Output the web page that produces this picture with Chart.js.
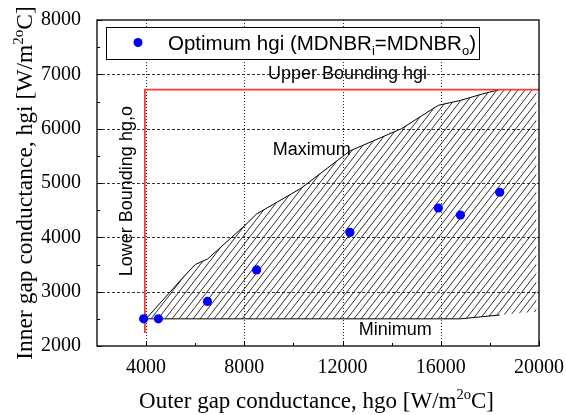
<!DOCTYPE html>
<html>
<head>
<meta charset="utf-8">
<script src="https://cdn.jsdelivr.net/npm/chart.js@4.4.1/dist/chart.umd.min.js"></script>
<style>
  html, body { margin: 0; padding: 0; background: #fff; }
  #wrap { width: 566px; height: 415px; }
</style>
</head>
<body>
<div id="wrap"><canvas id="gapChart" width="566" height="415"></canvas></div>
<script>
// optimum hgi points (MDNBRi = MDNBRo)
const hgoOpt = [3900, 4500, 6500, 8500, 12300, 15900, 16800, 18400];
const hgiOpt = [2500, 2500, 2820, 3400, 4090, 4540, 4410, 4830];

// hatched region: upper (maximum) and lower (minimum) boundary
const hgoBound = [4000, 5400, 6000, 6500, 8000, 8500, 10300, 12300, 14400, 15900, 16800, 17700, 18400, 19900];
const hgiMax   = [2500, 3210, 3500, 3600, 4210, 4430, 4900, 5590, 6000, 6430, 6520, 6640, 6720, 6720];
const hgiMin   = [2500, 2500, 2500, 2500, 2500, 2500, 2500, 2500, 2500, 2500, 2500, 2540, 2570, 2630];
const lineEnd = 13; // black min/max lines stop where they meet the red bound

// red bounding lines (lower hg,o and upper hgi)
const boundX = [3950, 3950, 20000];
const boundY = [2240, 6720, 6720];

// text written inside the plot
const noteText = ['Upper Bounding hgi', 'Maximum', 'Minimum', 'Lower Bounding hg,o'];
const noteX = [12200, 10750, 14150, 3220];
const noteY = [7000, 5600, 2290, 4850];

// ticks
const xTicks = [4000, 8000, 12000, 16000, 20000];
const xMinor = [6000, 10000, 14000, 18000];
const yTicks = [2000, 3000, 4000, 5000, 6000, 7000, 8000];
const yMinor = [2500, 3500, 4500, 5500, 6500, 7500];

const SERIF = '"Liberation Serif", "Times New Roman", serif';
const SANS = '"Liberation Sans", Arial, sans-serif';

function pts(xs, ys) {
  return xs.map((x, i) => ({ x: x, y: ys[i] }));
}

function makeHatch() {
  const w = 7, h = 9;
  const c = document.createElement('canvas');
  c.width = w; c.height = h;
  const g = c.getContext('2d');
  g.strokeStyle = '#1a1a1a';
  g.lineWidth = 0.9;
  g.beginPath();
  for (const k of [-1, 0, 1]) {
    g.moveTo(-w, 2 * h + k * h);
    g.lineTo(2 * w, -h + k * h);
  }
  g.stroke();
  return g.createPattern(c, 'repeat');
}

// draw text made of pieces (normal / sub / sup)
function richText(ctx, parts, family, x, y, align) {
  let total = 0;
  parts.forEach(p => {
    ctx.font = p[1] + 'px ' + family;
    p.w = ctx.measureText(p[0]).width;
    total += p.w;
  });
  let cx = align === 'center' ? x - total / 2 : x;
  ctx.textAlign = 'left';
  ctx.textBaseline = 'alphabetic';
  parts.forEach(p => {
    ctx.font = p[1] + 'px ' + family;
    ctx.fillText(p[0], cx, y + p[2]);
    cx += p.w;
  });
}

const decor = {
  id: 'decor',
  beforeDatasetsDraw(chart) {
    // grid: dotted verticals, dashed horizontals
    const ctx = chart.ctx;
    const xs = chart.scales.x, ys = chart.scales.y;
    const a = chart.chartArea;
    ctx.save();
    ctx.strokeStyle = '#222';
    ctx.lineWidth = 1;
    ctx.setLineDash([1, 2]);
    ctx.beginPath();
    xTicks.slice(0, -1).forEach(v => {
      const p = Math.round(xs.getPixelForValue(v)) + 0.5;
      ctx.moveTo(p, a.top); ctx.lineTo(p, a.bottom);
    });
    ctx.stroke();
    ctx.strokeStyle = '#333';
    ctx.setLineDash([3, 2]);
    ctx.beginPath();
    yTicks.slice(1, -1).forEach(v => {
      const p = Math.round(ys.getPixelForValue(v)) + 0.5;
      ctx.moveTo(a.left, p); ctx.lineTo(a.right, p);
    });
    ctx.stroke();
    ctx.restore();
  },
  afterDatasetsDraw(chart) {
    const ctx = chart.ctx;
    const xs = chart.scales.x, ys = chart.scales.y;
    const a = chart.chartArea;
    ctx.save();
    ctx.fillStyle = '#000';

    // notes inside the plot
    ctx.font = '18px ' + SANS;
    ctx.textAlign = 'center';
    ctx.textBaseline = 'middle';
    for (let i = 0; i < 3; i++) {
      ctx.fillText(noteText[i], xs.getPixelForValue(noteX[i]), ys.getPixelForValue(noteY[i]));
    }
    ctx.save();
    ctx.translate(xs.getPixelForValue(noteX[3]), ys.getPixelForValue(noteY[3]));
    ctx.rotate(-Math.PI / 2);
    ctx.fillText(noteText[3], 0, 0);
    ctx.restore();

    // legend box
    ctx.fillStyle = '#fff';
    ctx.fillRect(106, 27, 374, 33);
    ctx.strokeStyle = '#000';
    ctx.lineWidth = 1;
    ctx.strokeRect(106.5, 27.5, 373, 32);
    ctx.fillStyle = '#0000ff';
    ctx.beginPath();
    ctx.arc(138, 42.5, 4.5, 0, Math.PI * 2);
    ctx.fill();
    ctx.fillStyle = '#000';
    richText(ctx, [['Optimum hgi (MDNBR', 20.5, 0], ['i', 13, 5], ['=MDNBR', 20.5, 0], ['o', 13, 5], [')', 20.5, 0]],
      SANS, 168, 50, 'left');

    // frame
    ctx.strokeStyle = '#000';
    ctx.lineWidth = 1.3;
    ctx.strokeRect(a.left, a.top, a.right - a.left, a.bottom - a.top);

    // inward ticks
    ctx.lineWidth = 1;
    ctx.beginPath();
    xTicks.forEach(v => { const p = Math.round(xs.getPixelForValue(v)) + 0.5; ctx.moveTo(p, a.bottom); ctx.lineTo(p, a.bottom - 5); });
    xMinor.forEach(v => { const p = Math.round(xs.getPixelForValue(v)) + 0.5; ctx.moveTo(p, a.bottom); ctx.lineTo(p, a.bottom - 3); });
    yTicks.forEach(v => { const p = Math.round(ys.getPixelForValue(v)) + 0.5; ctx.moveTo(a.left, p); ctx.lineTo(a.left + 5, p); });
    yMinor.forEach(v => { const p = Math.round(ys.getPixelForValue(v)) + 0.5; ctx.moveTo(a.left, p); ctx.lineTo(a.left + 3, p); });
    ctx.stroke();
    ctx.restore();
  },
  afterDraw(chart) {
    const ctx = chart.ctx;
    const a = chart.chartArea;
    ctx.save();
    ctx.fillStyle = '#000';
    // x axis title
    richText(ctx, [['Outer gap conductance, hgo [W/m', 23, 0], ['2o', 14.5, -9.5], ['C]', 23, 0]],
      SERIF, (a.left + a.right) / 2 - 1.5, 408, 'center');
    // y axis title
    ctx.translate(32, (a.top + a.bottom) / 2);
    ctx.rotate(-Math.PI / 2);
    richText(ctx, [['Inner gap conductance, hgi [W/m', 23.5, 0], ['2o', 15, -9.5], ['C]', 23.5, 0]],
      SERIF, 0, 0, 'center');
    ctx.restore();
  }
};

const hatch = makeHatch();
const ctx = document.getElementById('gapChart').getContext('2d');

new Chart(ctx, {
  type: 'line',
  data: {
    datasets: [
      {
        data: pts(hgoBound, hgiMax),
        borderWidth: 0,
        pointRadius: 0,
        backgroundColor: hatch,
        fill: '+1',
        order: 5
      },
      {
        data: pts(hgoBound, hgiMin),
        borderWidth: 0,
        pointRadius: 0,
        fill: false,
        order: 5
      },
      {
        label: 'Maximum',
        data: pts(hgoBound.slice(0, lineEnd), hgiMax.slice(0, lineEnd)),
        borderColor: '#000',
        borderWidth: 1,
        pointRadius: 0,
        fill: false,
        order: 3
      },
      {
        label: 'Minimum',
        data: pts(hgoBound.slice(0, lineEnd), hgiMin.slice(0, lineEnd)),
        borderColor: '#000',
        borderWidth: 1,
        pointRadius: 0,
        fill: false,
        order: 3
      },
      {
        label: 'Bounds',
        data: pts(boundX, boundY),
        borderColor: '#f53b3b',
        borderWidth: 1.8,
        pointRadius: 0,
        fill: false,
        order: 2
      },
      {
        label: 'Optimum hgi',
        data: pts(hgoOpt, hgiOpt),
        showLine: false,
        pointRadius: 4.6,
        pointBackgroundColor: '#0000ff',
        pointBorderWidth: 0,
        order: 1
      }
    ]
  },
  options: {
    responsive: false,
    animation: false,
    devicePixelRatio: 1,
    layout: { padding: { left: 0, right: 27, top: 19.5, bottom: 0 } },
    plugins: {
      legend: { display: false },
      tooltip: { enabled: false }
    },
    scales: {
      x: {
        type: 'linear',
        min: 2000,
        max: 20000,
        afterBuildTicks: s => { s.ticks = xTicks.map(v => ({ value: v })); },
        afterFit: s => { s.height = 69; },
        ticks: {
          font: { family: SERIF, size: 20 },
          color: '#000',
          padding: 2,
          maxRotation: 0,
          autoSkip: false,
          callback: v => String(v)
        },
        grid: { display: false },
        border: { display: false }
      },
      y: {
        min: 2000,
        max: 8000,
        afterBuildTicks: s => { s.ticks = yTicks.map(v => ({ value: v })); },
        afterFit: s => { s.width = 97; },
        ticks: {
          font: { family: SERIF, size: 20 },
          color: '#000',
          padding: 8,
          autoSkip: false,
          callback: v => String(v)
        },
        grid: { display: false },
        border: { display: false }
      }
    }
  },
  plugins: [decor]
});
</script>
</body>
</html>
